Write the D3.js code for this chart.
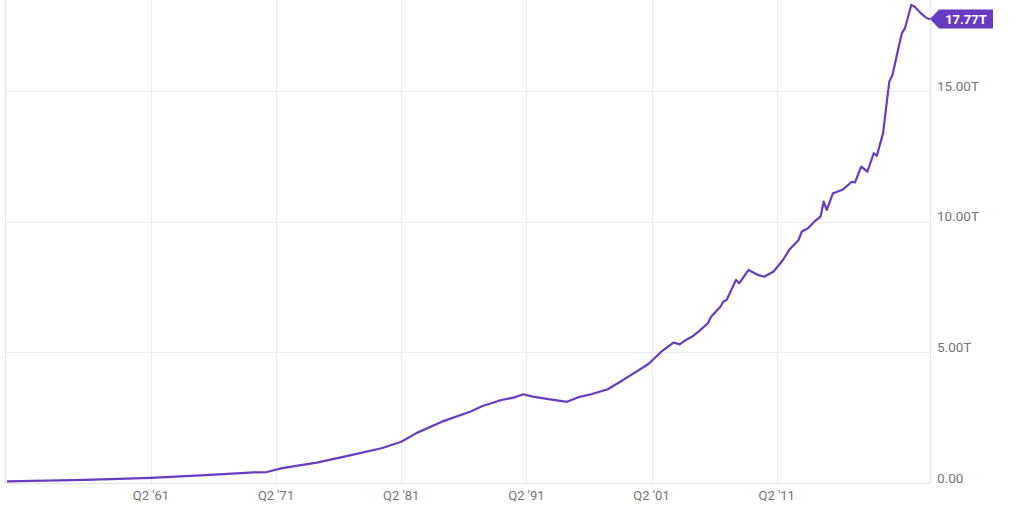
<!DOCTYPE html>
<html>
<head>
<meta charset="utf-8">
<script src="https://cdn.jsdelivr.net/npm/d3@7"></script>
<style>
  html, body { margin: 0; padding: 0; background: #fff; }
  svg { display: block; font-family: Roboto, "Open Sans", sans-serif; }
</style>
</head>
<body>
<div id="chart"></div>
<script>
// quarterly readings (trillions of dollars)
var DATES = [
  "1949-10", "1956-01", "1961-04", "1966-01", "1969-07", "1970-07", "1971-10",
  "1974-07", "1977-04", "1979-10", "1981-04", "1982-07", "1984-07", "1986-10",
  "1987-10", "1989-04", "1990-04", "1991-01", "1991-10", "1993-01", "1994-07",
  "1995-07", "1996-07", "1997-10", "1998-10", "1999-10", "2001-01", "2002-01",
  "2003-01", "2003-07", "2004-01", "2004-07", "2005-01", "2005-10", "2006-01",
  "2006-10", "2007-01", "2007-04", "2007-07", "2008-01",
  "2008-04", "2009-01", "2009-10", "2010-04", "2011-01", "2011-10", "2012-04",
  "2013-01", "2013-04", "2013-10", "2014-04", "2014-10", "2015-01", "2015-04",
  "2015-10", "2016-07", "2017-04", "2017-07", "2018-01", "2018-07", "2019-01",
  "2019-04", "2019-10", "2020-01", "2020-04", "2020-07", "2021-01", "2021-04",
  "2021-07", "2022-01", "2022-04", "2022-10", "2023-04", "2023-07"
];
var VALUES = [
  0.06, 0.12, 0.20, 0.31, 0.41, 0.42, 0.57,
  0.78, 1.07, 1.34, 1.58, 1.92, 2.35, 2.73,
  2.95, 3.18, 3.27, 3.40, 3.31, 3.21, 3.11,
  3.30, 3.41, 3.59, 3.88, 4.18, 4.56, 5.02,
  5.38, 5.31, 5.48, 5.61, 5.80, 6.12, 6.37,
  6.75, 6.95, 7.01, 7.27, 7.78,
  7.65, 8.16, 7.97, 7.90, 8.10, 8.54, 8.93,
  9.31, 9.63, 9.76, 10.01, 10.20, 10.78, 10.46,
  11.10, 11.23, 11.54, 11.51, 12.12, 11.93, 12.63,
  12.53, 13.40, 14.42, 15.38, 15.63, 16.72, 17.23,
  17.42, 18.31, 18.25, 18.00, 17.80, 17.77
];
var Y_TICKS = [0, 5, 10, 15];
var X_TICK_YEARS = [1961, 1971, 1981, 1991, 2001, 2011];
var LAST_LABEL = "17.77T";

// layout
var WIDTH = 1024;
var HEIGHT = 512;
var LEFT = 7;
var RIGHT = 930;
var BOTTOM = 483;
var PURPLE = "#683cc0";
var GRID = "#ececec";
var TEXT = "#747474";

var parse = d3.timeParse("%Y-%m");
var data = DATES.map(function(d, i){ return {date: parse(d), value: VALUES[i]}; });

var x = d3.scaleTime()
  .domain(d3.extent(data, function(d){ return d.date; }))
  .range([LEFT, RIGHT]);
var y = d3.scaleLinear()
  .domain([0, 18.5])
  .range([BOTTOM, 0]);

var svg = d3.select("#chart").append("svg")
  .attr("width", WIDTH)
  .attr("height", HEIGHT);

// horizontal grid
svg.append("g")
  .selectAll("line")
  .data(Y_TICKS.slice(1))
  .enter().append("line")
  .attr("x1", LEFT - 1)
  .attr("x2", RIGHT)
  .attr("y1", function(d){ return Math.round(y(d)) + 0.5; })
  .attr("y2", function(d){ return Math.round(y(d)) + 0.5; })
  .style("stroke", GRID)
  .style("stroke-width", 1);

// vertical grid
var xTicks = X_TICK_YEARS.map(function(yr){ return new Date(yr, 3, 1); });
svg.append("g")
  .selectAll("line")
  .data(xTicks)
  .enter().append("line")
  .attr("x1", function(d){ return Math.round(x(d)) + 0.5; })
  .attr("x2", function(d){ return Math.round(x(d)) + 0.5; })
  .attr("y1", 0)
  .attr("y2", BOTTOM)
  .style("stroke", GRID)
  .style("stroke-width", 1);

// plot frame (left, right, bottom)
svg.append("rect")
  .attr("x", LEFT - 1.5)
  .attr("y", -10)
  .attr("rx", 3)
  .attr("ry", 3)
  .attr("width", RIGHT - LEFT + 2)
  .attr("height", BOTTOM + 10.5)
  .style("fill", "none")
  .style("stroke", "#e6e6e6")
  .style("stroke-width", 1.5);

// y labels on the right
svg.append("g")
  .selectAll("text")
  .data(Y_TICKS)
  .enter().append("text")
  .attr("x", 937)
  .attr("y", function(d){ return y(d) - 0.5; })
  .attr("fill", TEXT)
  .attr("font-size", "13.5px")
  .text(function(d){ return d === 0 ? "0.00" : d3.format(".2f")(d) + "T"; });

// x labels
svg.append("g")
  .selectAll("text")
  .data(xTicks)
  .enter().append("text")
  .attr("x", function(d){ return x(d); })
  .attr("y", 500)
  .attr("text-anchor", "middle")
  .attr("fill", TEXT)
  .attr("font-size", "13px")
  .text(function(d){ return "Q2 '" + d3.timeFormat("%y")(d); });

// the series
var line = d3.line()
  .x(function(d){ return x(d.date); })
  .y(function(d){ return y(d.value); });

svg.append("path")
  .datum(data)
  .attr("d", line)
  .style("fill", "none")
  .style("stroke", PURPLE)
  .style("stroke-width", 2.2)
  .style("stroke-linejoin", "round");

// last value flag
var last = data[data.length - 1];
var lx = x(last.date);
var ly = y(last.value);
var flag = svg.append("g")
  .attr("transform", "translate(" + lx + "," + ly + ")");

flag.append("path")
  .attr("d", "M0,0 L9,-9.5 L63,-9.5 L63,9.5 L9,9.5 Z")
  .style("fill", PURPLE);

flag.append("text")
  .attr("x", 36)
  .attr("y", 0)
  .attr("dy", "0.36em")
  .attr("text-anchor", "middle")
  .attr("fill", "#fff")
  .attr("font-size", "13px")
  .attr("font-weight", "bold")
  .text(LAST_LABEL);
</script>
</body>
</html>
